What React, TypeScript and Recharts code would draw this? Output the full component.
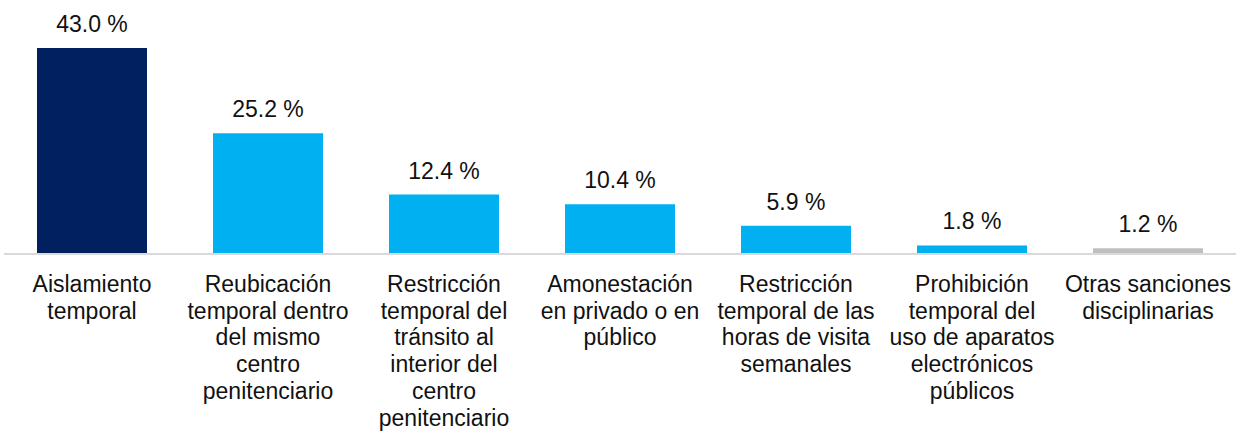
import React from "react";
import { BarChart, Bar, XAxis, YAxis, Cell, LabelList } from "recharts";

const categories = [
  "Aislamiento\ntemporal",
  "Reubicación\ntemporal dentro\ndel mismo\ncentro\npenitenciario",
  "Restricción\ntemporal del\ntránsito al\ninterior del\ncentro\npenitenciario",
  "Amonestación\nen privado o en\npúblico",
  "Restricción\ntemporal de las\nhoras de visita\nsemanales",
  "Prohibición\ntemporal del\nuso de aparatos\nelectrónicos\npúblicos",
  "Otras sanciones\ndisciplinarias",
];
const values = [43.0, 25.2, 12.4, 10.4, 5.9, 1.8, 1.2];
const barColors = ["#002060", "#00B0F0", "#00B0F0", "#00B0F0", "#00B0F0", "#00B0F0", "#BFBFBF"];

const data = categories.map((c, i) => ({ name: c, value: values[i] }));

const FONT = "'Liberation Sans', Arial, sans-serif";

const Tick = (props: any) => {
  const { x, y, payload } = props;
  const lines = String(payload.value).split("\n");
  return (
    <text x={x} y={y} textAnchor="middle" fontFamily={FONT} fontSize={23} fill="#111">
      {lines.map((l, i) => (
        <tspan key={i} x={x} dy={i === 0 ? 30 : 26.7}>
          {l}
        </tspan>
      ))}
    </text>
  );
};

export default function App() {
  return (
    <div style={{ position: "absolute", left: 0, top: 0, width: 1237, height: 431, background: "#fff" }}>
      <BarChart
        width={1237}
        height={431}
        data={data}
        margin={{ top: 48, right: 1, left: 4, bottom: 0 }}
        barCategoryGap="18.75%"
      >
        <XAxis
          dataKey="name"
          interval={0}
          height={177}
          tickLine={false}
          axisLine={{ stroke: "#D9D9D9", strokeWidth: 2 }}
          tick={<Tick />}
        />
        <YAxis hide domain={[0, 43]} />
        <Bar dataKey="value" isAnimationActive={false}>
          {data.map((d, i) => (
            <Cell key={i} fill={barColors[i]} />
          ))}
          <LabelList
            dataKey="value"
            position="top"
            offset={16}
            formatter={(v: any) => `${Number(v).toFixed(1)} %`}
            style={{ fontFamily: FONT, fontSize: 23, fill: "#111" }}
          />
        </Bar>
      </BarChart>
    </div>
  );
}
